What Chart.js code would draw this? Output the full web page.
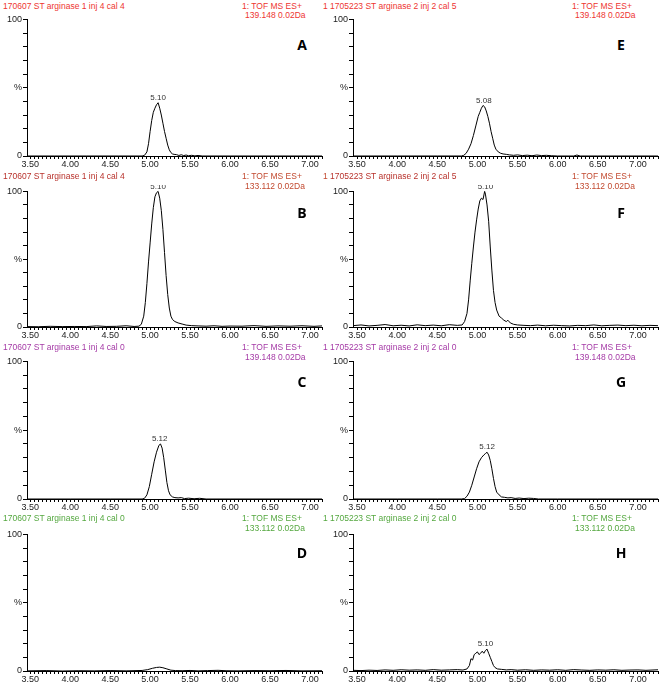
<!DOCTYPE html>
<html>
<head>
<meta charset="utf-8">
<script src="https://cdn.jsdelivr.net/npm/chart.js@4.4.1/dist/chart.umd.min.js"></script>
<style>
  body { margin: 0; background: #fff; }
  #page { position: relative; width: 660px; height: 685px; overflow: hidden; font-family: "Liberation Sans", Arial, sans-serif; }
  #page canvas { position: absolute; }
  .txt { position: absolute; font-size: 8.5px; line-height: 10px; white-space: nowrap; }
  .letter { position: absolute; font-family: "Open Sans", "Liberation Sans", sans-serif; font-weight: 700; font-size: 14px; line-height: 16px; width: 20px; text-align: center; color: #000; }
</style>
</head>
<body>
<div id="page"></div>
<script>
// retention time (min) / relative intensity (%)
const tA = [3.46, 3.80, 4.20, 4.60, 4.90, 4.93, 4.96, 4.98, 5.00, 5.02, 5.04, 5.06, 5.08, 5.10, 5.12, 5.14, 5.16, 5.18, 5.20, 5.22, 5.24, 5.26, 5.28, 5.30, 5.33, 5.36, 5.39, 5.42, 5.45, 5.48, 5.52, 5.56, 5.60, 5.65, 6.00, 6.50, 7.15];
const yA = [0, 0, 0, 0, 0, 0.5, 3, 9, 18, 26, 32, 35, 37.5, 39, 35, 30, 24, 18, 13, 8, 4.5, 2.5, 1.5, 1.2, 1.0, 0.4, 0.9, 0.3, 0.7, 0.2, 0.5, 0.1, 0.4, 0, 0, 0, 0];

const tB = [3.46, 3.60, 3.75, 3.90, 4.05, 4.20, 4.33, 4.45, 4.58, 4.70, 4.80, 4.86, 4.89, 4.92, 4.94, 4.96, 4.98, 5.00, 5.02, 5.04, 5.06, 5.08, 5.10, 5.12, 5.14, 5.16, 5.18, 5.20, 5.22, 5.24, 5.26, 5.28, 5.31, 5.35, 5.40, 5.45, 5.52, 5.60, 5.70, 5.80, 5.90, 6.00, 6.15, 6.30, 6.45, 6.60, 6.75, 6.90, 7.05, 7.15];
const yB = [0.3, 0.2, 0.5, 0.3, 0.4, 0.3, 0.8, 0.4, 0.5, 0.9, 0.4, 0.6, 2, 8, 18, 32, 48, 62, 76, 88, 96, 99, 100, 95, 86, 72, 55, 38, 24, 14, 8, 5.5, 4, 3, 2.2, 1.4, 1.0, 0.8, 0.6, 0.9, 0.5, 0.7, 0.6, 1.0, 0.5, 0.8, 0.6, 0.9, 0.5, 0.8];

const tC = [3.46, 4.00, 4.50, 4.90, 4.93, 4.96, 4.99, 5.02, 5.05, 5.08, 5.11, 5.13, 5.15, 5.17, 5.19, 5.21, 5.23, 5.25, 5.28, 5.31, 5.35, 5.39, 5.43, 5.48, 5.55, 5.62, 5.70, 6.00, 6.50, 7.15];
const yC = [0, 0, 0, 0, 0.5, 3, 9, 18, 27, 34, 39, 40, 37, 30, 21, 12, 6, 3, 1.5, 1.0, 0.8, 1.0, 0.3, 0.6, 0.2, 0.5, 0, 0, 0, 0];

const tD = [3.46, 3.70, 3.90, 4.10, 4.30, 4.50, 4.70, 4.90, 4.97, 5.03, 5.08, 5.12, 5.16, 5.21, 5.26, 5.32, 5.40, 5.50, 5.60, 5.72, 5.85, 5.95, 6.10, 6.30, 6.50, 6.70, 6.90, 7.15];
const yD = [0.1, 0.3, 0, 0.2, 0.1, 0.3, 0.1, 0.4, 1.0, 2.0, 2.6, 2.8, 2.4, 1.5, 0.6, 0.3, 0.2, 0.4, 0.1, 0.3, 0.5, 0.2, 0.1, 0.3, 0.2, 0.4, 0.1, 0.2];

const tE = [3.45, 4.00, 4.50, 4.80, 4.83, 4.86, 4.89, 4.92, 4.95, 4.98, 5.01, 5.03, 5.05, 5.07, 5.09, 5.11, 5.13, 5.15, 5.17, 5.19, 5.21, 5.23, 5.26, 5.29, 5.32, 5.36, 5.40, 5.45, 5.50, 5.56, 5.62, 5.68, 5.74, 5.80, 5.86, 5.92, 6.00, 6.20, 6.24, 6.28, 6.50, 7.25];
const yE = [0, 0, 0, 0, 0.5, 2, 5, 9, 15, 22, 29, 32, 35, 37, 36, 33, 29, 24, 18, 13, 8, 5, 3, 2, 1.5, 1.2, 0.8, 0.5, 0.8, 0.3, 0.6, 0.2, 0.7, 0.3, 0.5, 0.2, 0, 0, 0.7, 0, 0, 0];

const tF = [3.45, 3.55, 3.65, 3.75, 3.85, 3.95, 4.05, 4.15, 4.25, 4.35, 4.45, 4.55, 4.65, 4.75, 4.81, 4.84, 4.87, 4.89, 4.91, 4.93, 4.95, 4.97, 4.99, 5.01, 5.03, 5.05, 5.07, 5.09, 5.10, 5.12, 5.14, 5.16, 5.18, 5.20, 5.22, 5.24, 5.27, 5.30, 5.33, 5.36, 5.38, 5.41, 5.45, 5.50, 5.58, 5.66, 5.75, 5.85, 5.95, 6.05, 6.15, 6.25, 6.35, 6.45, 6.55, 6.65, 6.75, 6.85, 6.95, 7.05, 7.15, 7.25];
const yF = [1.0, 1.5, 0.8, 1.2, 1.8, 0.9, 1.3, 0.8, 1.6, 1.0, 1.4, 0.9, 1.7, 1.2, 1.5, 4, 10, 20, 34, 47, 59, 70, 79, 87, 93, 95, 94, 100, 98, 90, 78, 59, 42, 27, 18, 12.5, 8, 6.6, 5, 4, 5, 3, 2, 1.5, 1.2, 1.0, 1.4, 0.9, 1.3, 1.0, 0.8, 1.2, 1.0, 1.5, 0.9, 1.2, 1.4, 1.0, 1.3, 0.9, 1.2, 1.0];

const tG = [3.45, 4.00, 4.50, 4.80, 4.84, 4.87, 4.90, 4.93, 4.96, 4.99, 5.02, 5.05, 5.08, 5.10, 5.12, 5.14, 5.16, 5.18, 5.20, 5.22, 5.24, 5.27, 5.30, 5.34, 5.38, 5.42, 5.47, 5.52, 5.58, 5.64, 5.70, 5.76, 6.00, 6.50, 7.25];
const yG = [0, 0, 0, 0, 0.3, 2, 5, 10, 16, 22, 27, 30, 32, 33, 34, 32, 28, 22, 15, 9, 5, 3, 1.5, 1.2, 0.8, 1.0, 0.4, 0.7, 0.3, 0.6, 0.4, 0, 0, 0, 0];

const tH = [3.45, 3.55, 3.65, 3.75, 3.85, 3.95, 4.05, 4.15, 4.25, 4.35, 4.45, 4.55, 4.65, 4.75, 4.82, 4.87, 4.90, 4.92, 4.94, 4.96, 4.98, 5.00, 5.02, 5.04, 5.06, 5.08, 5.10, 5.12, 5.14, 5.16, 5.18, 5.20, 5.22, 5.25, 5.30, 5.36, 5.42, 5.50, 5.60, 5.70, 5.80, 5.90, 6.00, 6.10, 6.20, 6.30, 6.40, 6.50, 6.60, 6.70, 6.80, 6.90, 7.00, 7.10, 7.25];
const yH = [0.5, 0.3, 0.6, 0.4, 0.8, 0.5, 0.9, 0.6, 0.8, 0.5, 1.0, 0.6, 0.8, 1.0, 0.7, 1.5, 4, 9, 8, 12, 13, 14, 12, 13, 14.5, 13, 15, 16, 13, 10, 7, 4, 2.5, 1.5, 1.2, 0.8, 1.0, 0.6, 0.9, 0.5, 0.8, 0.6, 0.9, 0.5, 1.0, 0.7, 0.5, 0.8, 0.6, 0.9, 0.5, 0.7, 0.8, 0.5, 0.9];

const panelLetters = ['A', 'B', 'C', 'D', 'E', 'F', 'G', 'H'];
const peakLabels   = ['5.10', '5.10', '5.12', null, '5.08', '5.10', '5.12', '5.10'];
const sampleNames  = ['170607 ST  arginase 1 inj 4 cal 4', '170607 ST  arginase 1 inj 4 cal 4',
                      '170607 ST  arginase 1 inj 4 cal 0', '170607 ST  arginase 1 inj 4 cal 0',
                      '1705223 ST  arginase 2 inj 2 cal 5', '1705223 ST  arginase 2 inj 2 cal 5',
                      '1705223 ST  arginase 2 inj 2 cal 0', '1705223 ST  arginase 2 inj 2 cal 0'];
const functionName = '1: TOF MS ES+';
const massWindows  = ['139.148 0.02Da', '133.112 0.02Da', '139.148 0.02Da', '133.112 0.02Da',
                      '139.148 0.02Da', '133.112 0.02Da', '139.148 0.02Da', '133.112 0.02Da'];
const xTickLabels  = ['3.50', '4.00', '4.50', '5.00', '5.50', '6.00', '6.50', '7.00'];
const rowColors    = [['#ee3530', '#ee3530'], ['#b8322c', '#c24a30'], ['#a53aa6', '#a53aa6'], ['#55a840', '#55a840']];

const times = [tA, tB, tC, tD, tE, tF, tG, tH];
const intensities = [yA, yB, yC, yD, yE, yF, yG, yH];

// layout of the 2 x 4 grid
const plotTop    = [19, 191, 361, 534];
const plotBottom = [156, 327, 499, 671];
const titleY1    = [6, 176, 347, 518];
const titleY2    = [15, 186, 357, 528];
const letterY    = [45, 213, 382, 553];
const cols = [
  { left: 0,   axis: 27,  end: 322, min: 3.46, max: 7.15, title: 3,   fn: 242, mass: 245, letter: 302 },
  { left: 330, axis: 353, end: 658, min: 3.45, max: 7.25, title: 330, fn: 572, mass: 575, letter: 621 },
];

const page = document.getElementById('page');

function addText(cls, text, x, y, color) {
  const d = document.createElement('div');
  d.className = cls;
  d.textContent = text;
  d.style.left = x + 'px';
  d.style.top = y + 'px';
  if (color) d.style.color = color;
  page.appendChild(d);
  return d;
}

const peakLabelPlugin = {
  id: 'peakLabel',
  afterDatasetsDraw(chart, args, opts) {
    if (!opts.text) return;
    const data = chart.data.datasets[0].data;
    let best = data[0];
    for (const p of data) if (p.y > best.y) best = p;
    const ctx = chart.ctx;
    ctx.save();
    ctx.font = '8px "Liberation Sans", Arial, sans-serif';
    ctx.fillStyle = '#333';
    ctx.textAlign = 'center';
    ctx.textBaseline = 'bottom';
    ctx.fillText(opts.text, chart.scales.x.getPixelForValue(+opts.text), chart.scales.y.getPixelForValue(best.y) - 1);
    ctx.restore();
  },
};

for (let i = 0; i < 8; i++) {
  const c = cols[Math.floor(i / 4)];
  const r = i % 4;
  const [c1, c2] = rowColors[r];

  addText('txt', sampleNames[i], c.title, titleY1[r] - 5, c1);
  addText('txt', functionName, c.fn, titleY1[r] - 5, c2);
  addText('txt', massWindows[i], c.mass, titleY2[r] - 5, c2);
  if (c.left === 0) addText('txt', '1', 323, titleY1[r] - 5, c2);
  addText('letter', panelLetters[i], c.letter - 10, letterY[r] - 8);

  const top = plotTop[r] - 6;
  const height = plotBottom[r] - plotTop[r] + 6 + 16;
  const canvas = document.createElement('canvas');
  canvas.width = 330;
  canvas.height = height;
  canvas.style.left = c.left + 'px';
  canvas.style.top = top + 'px';
  page.appendChild(canvas);

  const yAxisWidth = c.axis - c.left;
  new Chart(canvas.getContext('2d'), {
    type: 'line',
    data: {
      datasets: [{
        data: times[i].map((t, k) => ({ x: t, y: intensities[i][k] })),
        borderColor: '#000',
        borderWidth: 1,
        pointRadius: 0,
        tension: 0,
        clip: 2,
      }],
    },
    options: {
      responsive: false,
      devicePixelRatio: 1,
      animation: false,
      events: [],
      layout: { padding: { top: 6, right: c.left + 330 - c.end, bottom: 0, left: 0 } },
      plugins: {
        legend: { display: false },
        tooltip: { enabled: false },
        peakLabel: { text: peakLabels[i] },
      },
      scales: {
        x: {
          type: 'linear',
          min: c.min,
          max: c.max,
          afterBuildTicks: (s) => {
            const ticks = [];
            for (let k = 0; 3.5 + k * 0.05 <= s.max + 1e-9; k++) ticks.push({ value: 3.5 + k * 0.05 });
            s.ticks = ticks;
          },
          afterFit: (s) => { s.height = 16; },
          grid: { drawOnChartArea: false, drawTicks: true, tickLength: 3, color: '#000', lineWidth: 1 },
          border: { display: true, color: '#000', width: 1 },
          ticks: {
            autoSkip: false,
            maxRotation: 0,
            minRotation: 0,
            padding: 0,
            color: '#222',
            font: { family: '"Liberation Sans", Arial, sans-serif', size: 9 },
            callback: (v) => xTickLabels.includes(v.toFixed(2)) ? v.toFixed(2) : '',
          },
        },
        y: {
          min: 0,
          max: 100,
          afterFit: (s) => { s.width = yAxisWidth; },
          grid: { drawOnChartArea: false, drawTicks: true, tickLength: 4, color: '#000', lineWidth: 1 },
          border: { display: true, color: '#000', width: 1 },
          ticks: {
            stepSize: 10,
            autoSkip: false,
            padding: 1,
            color: '#222',
            font: { family: '"Liberation Sans", Arial, sans-serif', size: 9 },
            callback: (v) => v === 100 ? '100' : v === 0 ? '0' : v === 50 ? '%' : '',
          },
        },
      },
    },
    plugins: [peakLabelPlugin],
  });
}
</script>
</body>
</html>
